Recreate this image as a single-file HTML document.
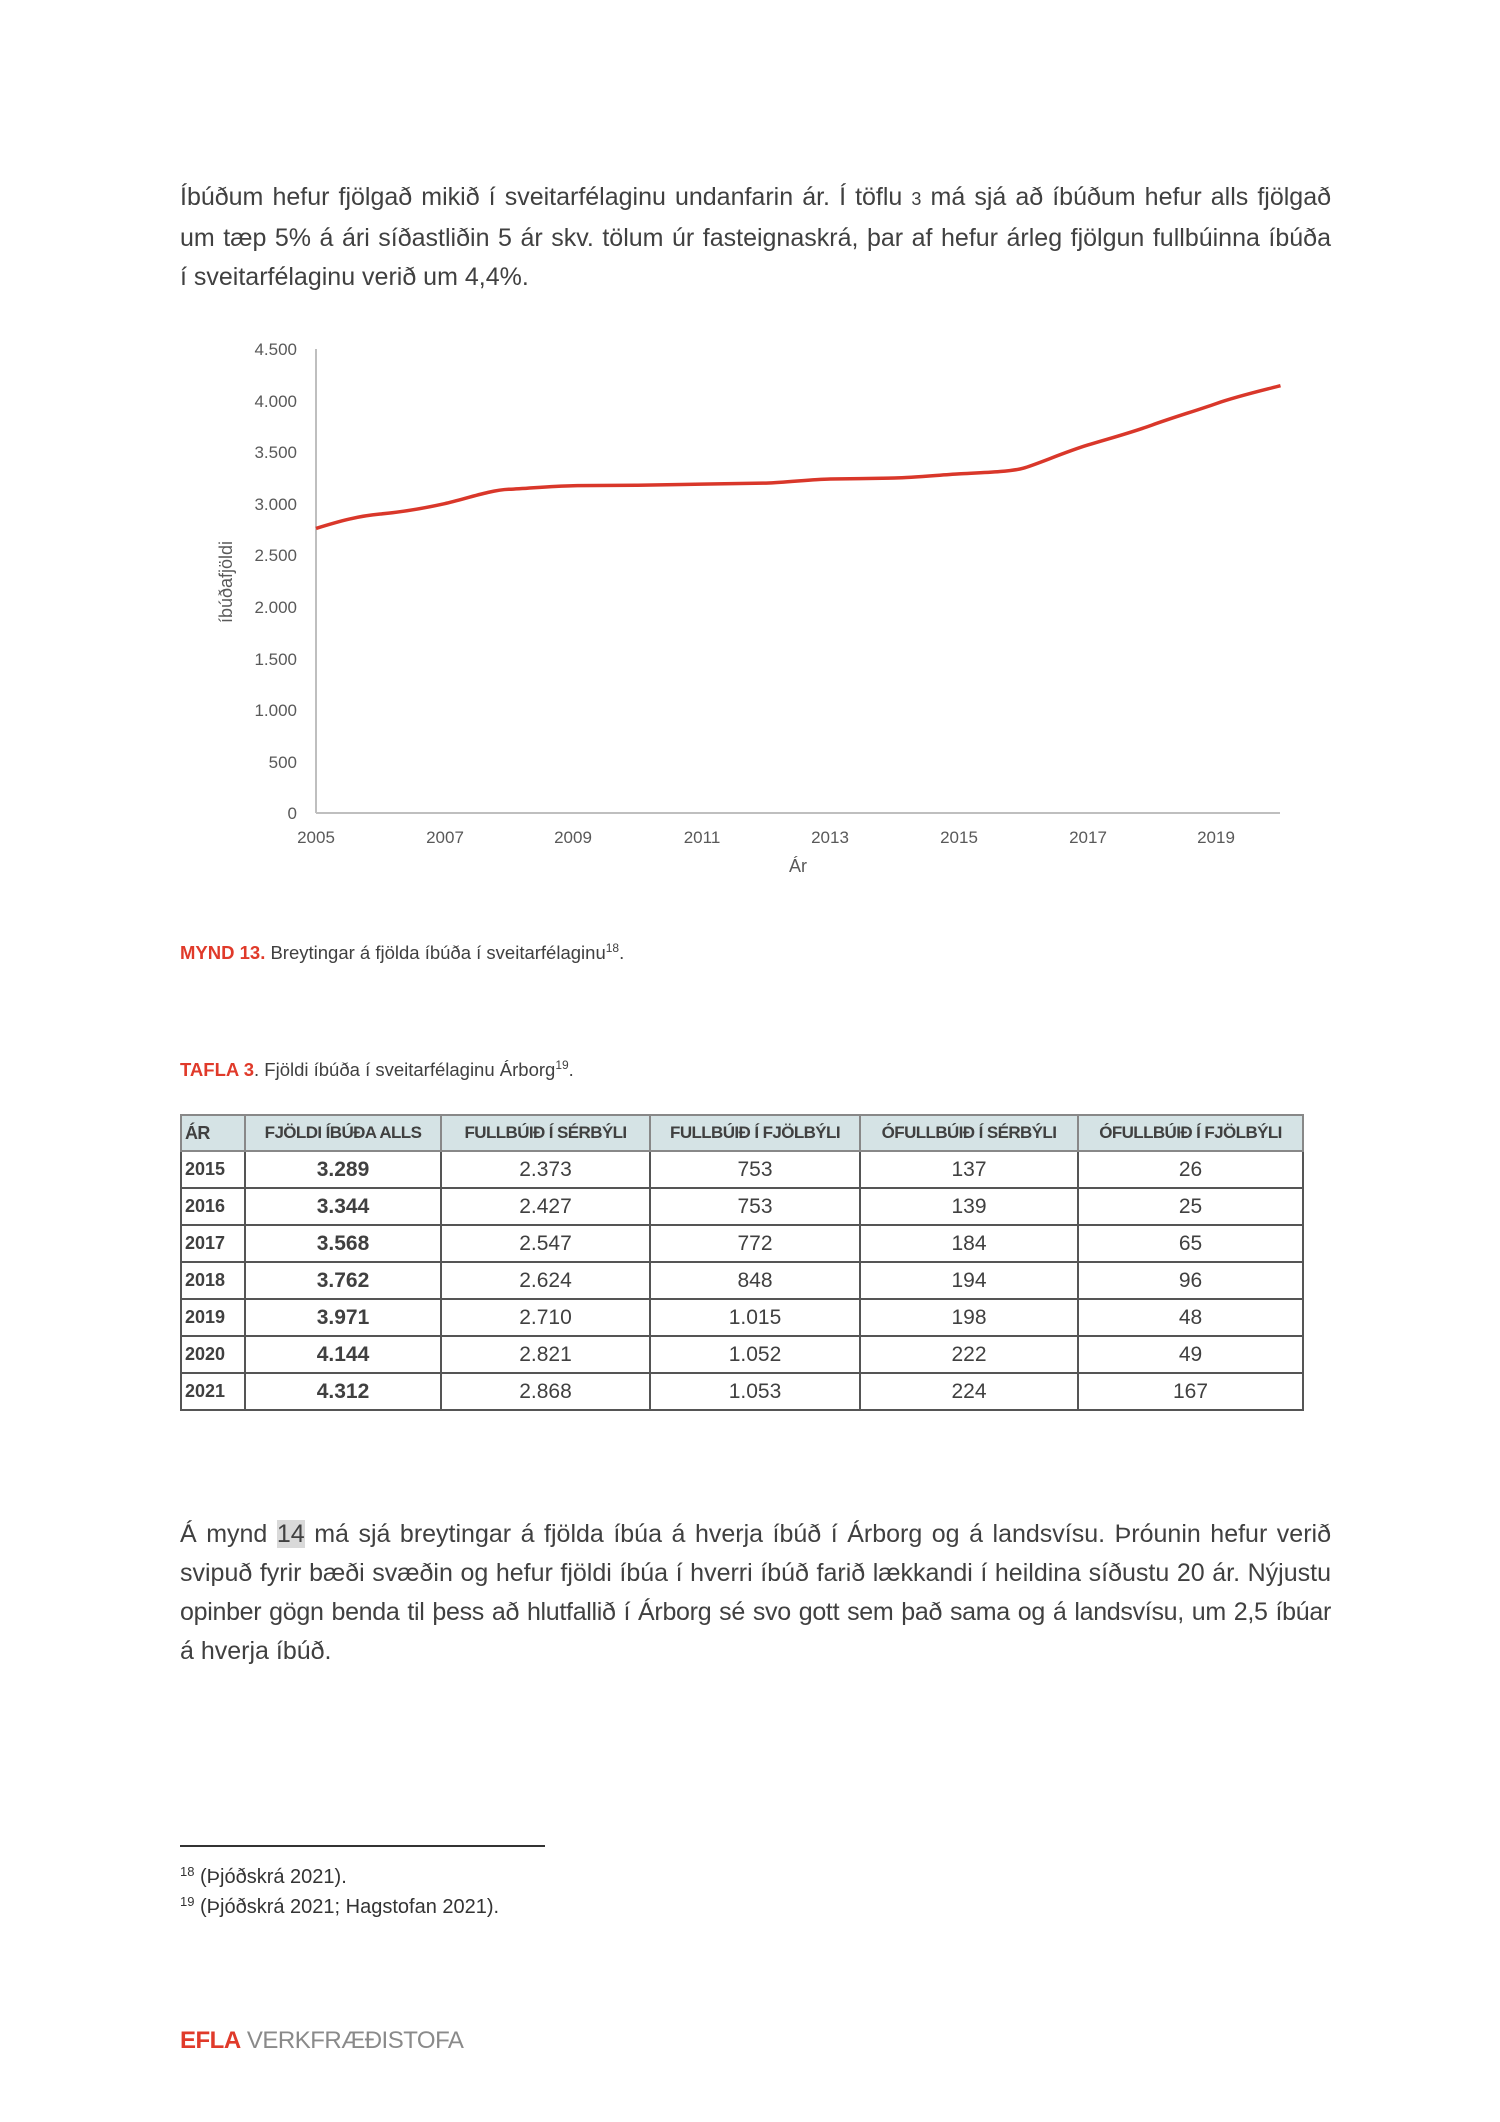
<!DOCTYPE html>
<html><head><meta charset="utf-8"><style>
body{margin:0;background:#fff;}
#pg{position:relative;width:1500px;height:2122px;overflow:hidden;font-family:"Liberation Sans",sans-serif;color:#404040;}
.p{position:absolute;left:180px;width:1151px;font-size:25px;line-height:39px;}
.p div{text-align:justify;text-align-last:justify;white-space:nowrap;}
.p div.l{text-align-last:left;}
sup{vertical-align:baseline;position:relative;top:-0.55em;line-height:0;}
.cap{position:absolute;left:180px;font-size:18.5px;color:#404040;}
.red{color:#e03a2a;font-weight:bold;}
table{position:absolute;left:180px;top:1114px;width:1124px;border-collapse:collapse;}
td,th{border:2px solid #555;height:35px;padding:0;text-align:center;font-size:21px;color:#404040;}
th{background:#d5e3e5;font-size:17px;font-weight:bold;letter-spacing:-0.6px;height:34px;border-color:#888;}
td:first-child,th:first-child{text-align:left;padding-left:3px;font-weight:bold;font-size:18px;}
td.b{font-weight:bold;}
</style></head><body><div id="pg">
<div class="p" style="top:178px">
<div>Íbúðum hefur fjölgað mikið í sveitarfélaginu undanfarin ár. Í töflu <span style="font-size:18px">3</span> má sjá að íbúðum hefur alls fjölgað</div>
<div>um tæp 5% á ári síðastliðin 5 ár skv. tölum úr fasteignaskrá, þar af hefur árleg fjölgun fullbúinna íbúða</div>
<div class="l">í sveitarfélaginu verið um 4,4%.</div>
</div>

<svg style="position:absolute;left:0;top:0" width="1500" height="900" font-family="Liberation Sans, sans-serif" fill="#595959">
<line x1="316" y1="349" x2="316" y2="813" stroke="#bfbfbf" stroke-width="2"/>
<line x1="316" y1="813" x2="1280" y2="813" stroke="#bfbfbf" stroke-width="2"/>
<g font-size="17" text-anchor="end">
<text x="297" y="355">4.500</text><text x="297" y="407">4.000</text><text x="297" y="458">3.500</text><text x="297" y="510">3.000</text><text x="297" y="561">2.500</text><text x="297" y="613">2.000</text><text x="297" y="665">1.500</text><text x="297" y="716">1.000</text><text x="297" y="768">500</text><text x="297" y="819">0</text>
</g>
<g font-size="17" text-anchor="middle">
<text x="316" y="843">2005</text><text x="445" y="843">2007</text><text x="573" y="843">2009</text><text x="702" y="843">2011</text><text x="830" y="843">2013</text><text x="959" y="843">2015</text><text x="1088" y="843">2017</text><text x="1216" y="843">2019</text>
<text x="798" y="872" font-size="18">Ár</text>
</g>
<text transform="translate(232,582) rotate(-90)" text-anchor="middle" font-size="18">íbúðafjöldi</text>
<path fill="none" stroke="#d9372a" stroke-width="3.5" stroke-linejoin="round" d="M316,528.4 C340,521 358,516 380.3,514 S425,508 444.6,503.7 S490,490 508.9,489.3 S550,486 573.2,485.7 S620,485.3 637.5,485.2 S680,484.4 701.8,484.1 S745,483.6 766.1,483.1 S810,479.3 830.4,479 S875,478.5 894.7,478 S940,475 959,473.9 S1010,472 1023.3,468.2 S1065,452 1087.6,445.1 S1130,433 1151.9,425.1 S1195,411 1216.2,403.6 S1260,391 1280.5,385.7"/>
</svg>

<div class="cap" style="top:942px"><span class="red">MYND 13.</span> Breytingar á fjölda íbúða í sveitarfélaginu<sup style="font-size:12px">18</sup>.</div>
<div class="cap" style="top:1059px"><span class="red">TAFLA 3</span>. Fjöldi íbúða í sveitarfélaginu Árborg<sup style="font-size:12px">19</sup>.</div>

<table>
<colgroup><col style="width:64px"><col style="width:196px"><col style="width:209px"><col style="width:210px"><col style="width:218px"><col></colgroup>
<tr><th>ÁR</th><th>FJÖLDI ÍBÚÐA ALLS</th><th>FULLBÚIÐ Í SÉRBÝLI</th><th>FULLBÚIÐ Í FJÖLBÝLI</th><th>ÓFULLBÚIÐ Í SÉRBÝLI</th><th>ÓFULLBÚIÐ Í FJÖLBÝLI</th></tr>
<tr><td>2015</td><td class="b">3.289</td><td>2.373</td><td>753</td><td>137</td><td>26</td></tr>
<tr><td>2016</td><td class="b">3.344</td><td>2.427</td><td>753</td><td>139</td><td>25</td></tr>
<tr><td>2017</td><td class="b">3.568</td><td>2.547</td><td>772</td><td>184</td><td>65</td></tr>
<tr><td>2018</td><td class="b">3.762</td><td>2.624</td><td>848</td><td>194</td><td>96</td></tr>
<tr><td>2019</td><td class="b">3.971</td><td>2.710</td><td>1.015</td><td>198</td><td>48</td></tr>
<tr><td>2020</td><td class="b">4.144</td><td>2.821</td><td>1.052</td><td>222</td><td>49</td></tr>
<tr><td>2021</td><td class="b">4.312</td><td>2.868</td><td>1.053</td><td>224</td><td>167</td></tr>
</table>

<div class="p" style="top:1515px">
<div>Á mynd <span style="background:#d9d9d9">14</span> má sjá breytingar á fjölda íbúa á hverja íbúð í Árborg og á landsvísu. Þróunin hefur verið</div>
<div>svipuð fyrir bæði svæðin og hefur fjöldi íbúa í hverri íbúð farið lækkandi í heildina síðustu 20 ár. Nýjustu</div>
<div style="letter-spacing:-0.3px">opinber gögn benda til þess að hlutfallið í Árborg sé svo gott sem það sama og á landsvísu, um 2,5 íbúar</div>
<div class="l">á hverja íbúð.</div>
</div>

<div style="position:absolute;left:180px;top:1845px;width:365px;height:1.5px;background:#333"></div>
<div style="position:absolute;left:180px;top:1862px;font-size:20px;line-height:30px;color:#333">
<div><sup style="font-size:13px">18</sup> (Þjóðskrá 2021).</div>
<div><sup style="font-size:13px">19</sup> (Þjóðskrá 2021; Hagstofan 2021).</div>
</div>
<div style="position:absolute;left:180px;top:2027px;font-size:24px;letter-spacing:-0.5px"><span style="color:#e03a2a;font-weight:bold">EFLA</span> <span style="color:#8a8a8a">VERKFRÆÐISTOFA</span></div>
</div></body></html>
